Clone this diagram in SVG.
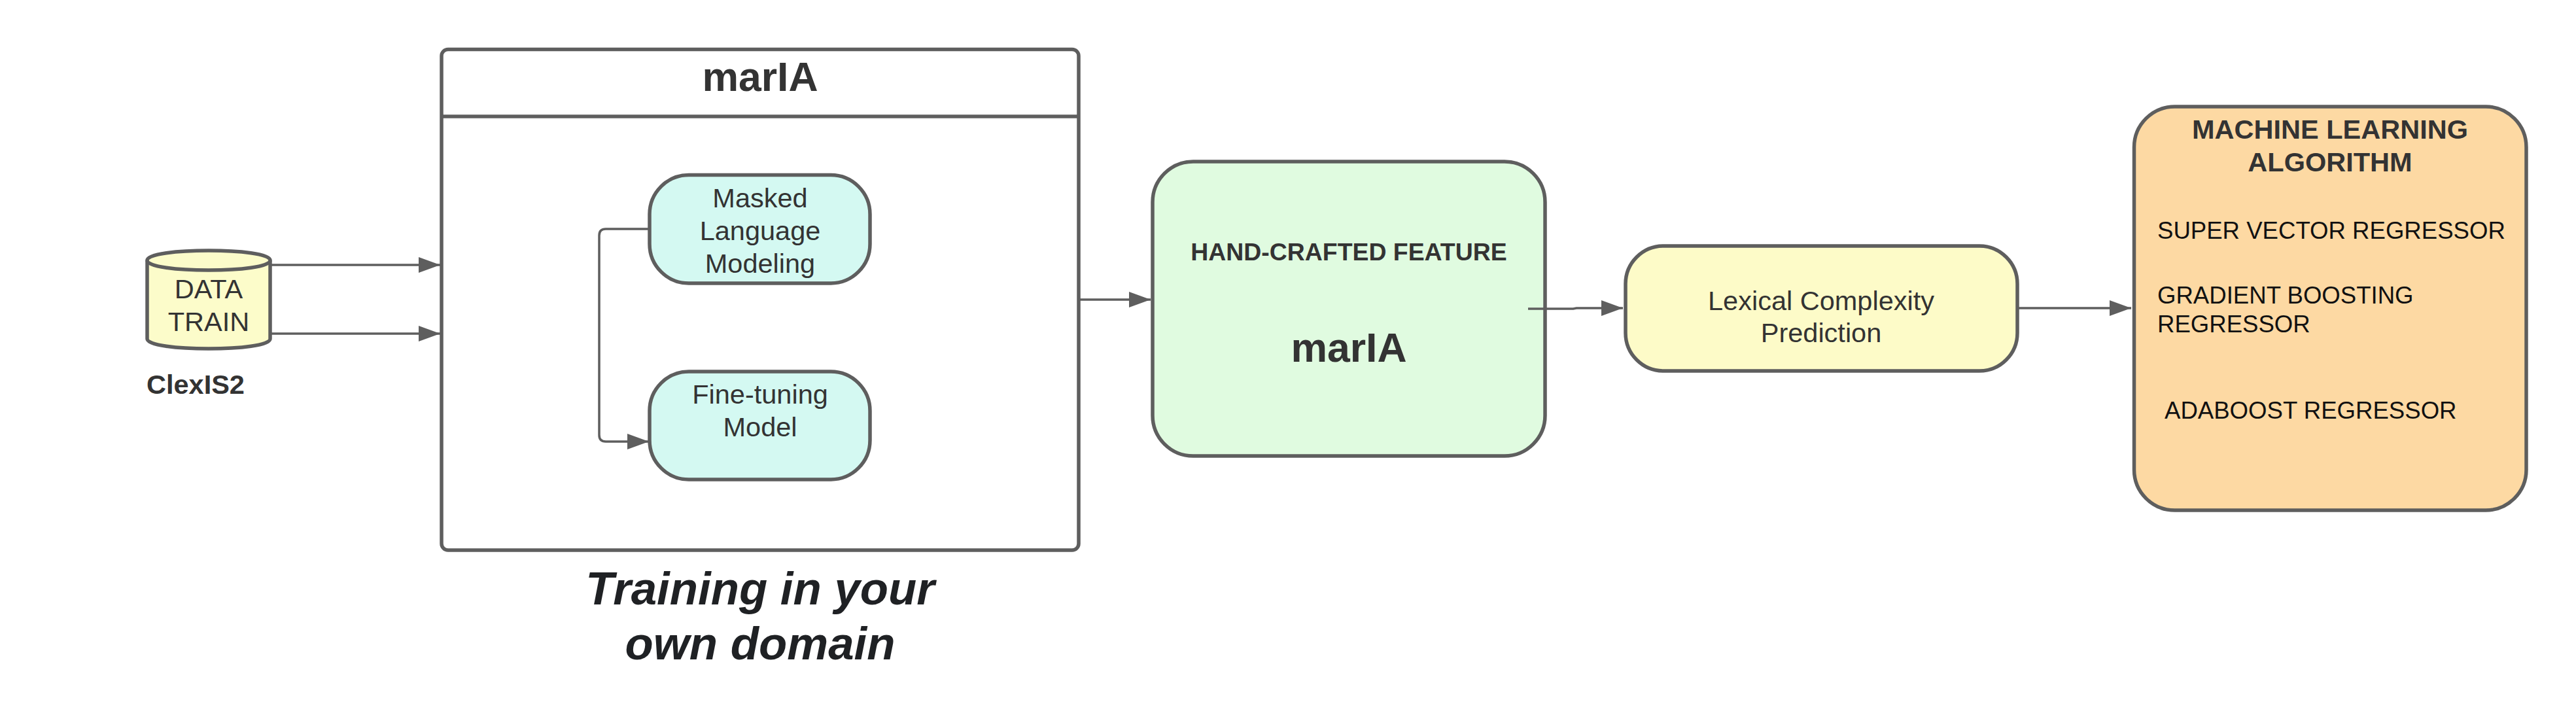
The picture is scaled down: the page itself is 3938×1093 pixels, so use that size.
<svg xmlns="http://www.w3.org/2000/svg" width="3938" height="1093" viewBox="0 0 3938 1093">
<style>
text{font-family:"Liberation Sans",Arial,sans-serif;fill:#333;font-size:41.500px}
.m{text-anchor:middle}
.b{font-weight:bold}
.n{stroke:#5e5e5e;stroke-width:5.500}
.c{fill:none;stroke:#5e5e5e;stroke-width:3.500}
.t{fill:#d4f9f2}
.l{fill:#111;font-size:36.600px}
.h{font-size:62.500px}
.i{font-size:70.800px;font-style:italic;fill:#1f2124}
</style>
<defs>
<marker id="a" markerUnits="userSpaceOnUse" markerWidth="34" markerHeight="24" refX="33" refY="12" orient="auto"><path d="M0 0L33 12L0 24Z" fill="#5e5e5e"/></marker>
</defs>
<rect width="3938" height="1093" fill="#fff"/>
<g id="node-data-train">
<path class="n" fill="#fcfcca" d="M225 398C225 378 413 378 413 398V518C413 538 225 538 225 518Z"/>
<path class="n" fill="none" d="M225 398C225 418 413 418 413 398"/>
<text class="m" x="319" y="456">DATA</text>
<text class="m" x="319" y="506">TRAIN</text>
</g>
<text id="label-clexis2" class="b" x="224" y="602">ClexIS2</text>
<g id="node-maria">
<rect class="n" x="675" y="75.500" width="974" height="765.500" rx="10" fill="#fff"/>
<path class="n" d="M675 178H1649"/>
<text class="m b h" x="1162" y="139">marIA</text>
</g>
<g id="node-masked">
<rect class="n t" x="993" y="267.500" width="337" height="165.500" rx="60"/>
<text class="m" x="1162" y="317">Masked</text>
<text class="m" x="1162" y="367">Language</text>
<text class="m" x="1162" y="417">Modeling</text>
</g>
<g id="node-finetuning">
<rect class="n t" x="993" y="568" width="337" height="165" rx="60"/>
<text class="m" x="1162" y="617">Fine-tuning</text>
<text class="m" x="1162" y="667">Model</text>
</g>
<g id="label-training">
<text class="m b i" x="1162" y="924">Training in your</text>
<text class="m b i" x="1162" y="1008">own domain</text>
</g>
<g id="node-handcrafted">
<rect class="n" x="1762" y="247" width="600" height="450" rx="62" fill="#e0fbe0"/>
<text class="m b" x="2062" y="398" style="font-size:37.400px">HAND-CRAFTED FEATURE</text>
<text class="m b h" x="2062" y="553">marIA</text>
</g>
<g id="node-lexical">
<rect class="n" x="2485" y="376" width="599" height="191" rx="58" fill="#fdfbc8"/>
<text class="m" x="2784" y="474">Lexical Complexity</text>
<text class="m" x="2784" y="523">Prediction</text>
</g>
<g id="node-ml">
<rect class="n" x="3262.500" y="163" width="599.500" height="617" rx="62" fill="#fdd9a3"/>
<text class="m b" x="3562" y="212">MACHINE LEARNING</text>
<text class="m b" x="3562" y="262">ALGORITHM</text>
<text class="l" x="3298" y="365">SUPER VECTOR REGRESSOR</text>
<text class="l" x="3298" y="464">GRADIENT BOOSTING</text>
<text class="l" x="3298" y="508">REGRESSOR</text>
<text class="l" x="3309" y="640">ADABOOST REGRESSOR</text>
</g>
<g id="connectors">
<path class="c" d="M413 405H673" marker-end="url(#a)"/>
<path class="c" d="M413 510H673" marker-end="url(#a)"/>
<path class="c" d="M993 350H926Q916 350 916 360V665Q916 675 926 675H992" marker-end="url(#a)"/>
<path class="c" d="M1649 458H1759" marker-end="url(#a)"/>
<path class="c" d="M2336 472H2405L2410 471H2481" marker-end="url(#a)"/>
<path class="c" d="M3084 471H3258" marker-end="url(#a)"/>
</g>
</svg>
